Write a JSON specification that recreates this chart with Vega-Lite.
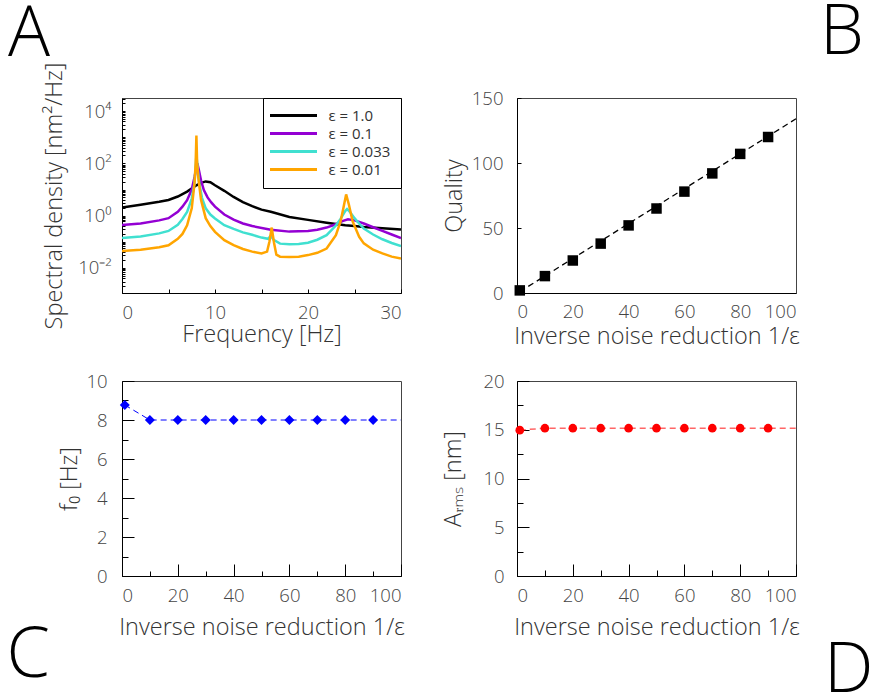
{
  "$schema": "https://vega.github.io/schema/vega-lite/v6.json",
  "background": "white",
  "padding": {"left": 6, "top": -3, "right": 0, "bottom": 0},
  "columns": 2,
  "spacing": {"row": 88, "column": 116},
  "bounds": "flush",
  "resolve": {"scale": {"color": "independent"}, "legend": {"color": "independent"}},
  "datasets": {
    "spectra": [
      {"eps": "ε = 1.0", "f": 0, "S": 2.04}, {"eps": "ε = 1.0", "f": 2, "S": 2.6}, {"eps": "ε = 1.0", "f": 4, "S": 3.4}, {"eps": "ε = 1.0", "f": 5, "S": 3.98}, {"eps": "ε = 1.0", "f": 6, "S": 5.4}, {"eps": "ε = 1.0", "f": 7, "S": 8.3}, {"eps": "ε = 1.0", "f": 8, "S": 14.5}, {"eps": "ε = 1.0", "f": 8.5, "S": 18}, {"eps": "ε = 1.0", "f": 9, "S": 20.4}, {"eps": "ε = 1.0", "f": 9.5, "S": 19}, {"eps": "ε = 1.0", "f": 10, "S": 14.5}, {"eps": "ε = 1.0", "f": 11, "S": 8.9}, {"eps": "ε = 1.0", "f": 12, "S": 5.2}, {"eps": "ε = 1.0", "f": 13, "S": 3.3}, {"eps": "ε = 1.0", "f": 14, "S": 2.3}, {"eps": "ε = 1.0", "f": 15, "S": 1.7}, {"eps": "ε = 1.0", "f": 16, "S": 1.4}, {"eps": "ε = 1.0", "f": 18, "S": 0.89}, {"eps": "ε = 1.0", "f": 20, "S": 0.69}, {"eps": "ε = 1.0", "f": 22, "S": 0.54}, {"eps": "ε = 1.0", "f": 23, "S": 0.48}, {"eps": "ε = 1.0", "f": 24, "S": 0.43}, {"eps": "ε = 1.0", "f": 25, "S": 0.40}, {"eps": "ε = 1.0", "f": 26, "S": 0.37}, {"eps": "ε = 1.0", "f": 28, "S": 0.33}, {"eps": "ε = 1.0", "f": 30, "S": 0.295},
      {"eps": "ε = 0.1", "f": 0, "S": 0.44}, {"eps": "ε = 0.1", "f": 2, "S": 0.5}, {"eps": "ε = 0.1", "f": 4, "S": 0.66}, {"eps": "ε = 0.1", "f": 5, "S": 0.8}, {"eps": "ε = 0.1", "f": 6, "S": 1.4}, {"eps": "ε = 0.1", "f": 6.5, "S": 2.2}, {"eps": "ε = 0.1", "f": 7, "S": 3.9}, {"eps": "ε = 0.1", "f": 7.5, "S": 10}, {"eps": "ε = 0.1", "f": 7.8, "S": 30}, {"eps": "ε = 0.1", "f": 8.0, "S": 70}, {"eps": "ε = 0.1", "f": 8.1, "S": 100}, {"eps": "ε = 0.1", "f": 8.25, "S": 60}, {"eps": "ε = 0.1", "f": 8.5, "S": 22}, {"eps": "ε = 0.1", "f": 8.8, "S": 9.5}, {"eps": "ε = 0.1", "f": 9.2, "S": 5.0}, {"eps": "ε = 0.1", "f": 9.6, "S": 3.2}, {"eps": "ε = 0.1", "f": 10, "S": 2.2}, {"eps": "ε = 0.1", "f": 11, "S": 1.1}, {"eps": "ε = 0.1", "f": 12, "S": 0.7}, {"eps": "ε = 0.1", "f": 13, "S": 0.5}, {"eps": "ε = 0.1", "f": 14, "S": 0.4}, {"eps": "ε = 0.1", "f": 16, "S": 0.29}, {"eps": "ε = 0.1", "f": 18, "S": 0.245}, {"eps": "ε = 0.1", "f": 20, "S": 0.26}, {"eps": "ε = 0.1", "f": 21, "S": 0.29}, {"eps": "ε = 0.1", "f": 22, "S": 0.35}, {"eps": "ε = 0.1", "f": 23, "S": 0.47}, {"eps": "ε = 0.1", "f": 23.7, "S": 0.62}, {"eps": "ε = 0.1", "f": 24.3, "S": 0.72}, {"eps": "ε = 0.1", "f": 25, "S": 0.66}, {"eps": "ε = 0.1", "f": 25.5, "S": 0.58}, {"eps": "ε = 0.1", "f": 26, "S": 0.5}, {"eps": "ε = 0.1", "f": 27, "S": 0.36}, {"eps": "ε = 0.1", "f": 28, "S": 0.26}, {"eps": "ε = 0.1", "f": 29, "S": 0.19}, {"eps": "ε = 0.1", "f": 30, "S": 0.14},
      {"eps": "ε = 0.033", "f": 0, "S": 0.14}, {"eps": "ε = 0.033", "f": 2, "S": 0.16}, {"eps": "ε = 0.033", "f": 4, "S": 0.21}, {"eps": "ε = 0.033", "f": 5, "S": 0.26}, {"eps": "ε = 0.033", "f": 6, "S": 0.45}, {"eps": "ε = 0.033", "f": 6.5, "S": 0.75}, {"eps": "ε = 0.033", "f": 7, "S": 1.4}, {"eps": "ε = 0.033", "f": 7.5, "S": 4.5}, {"eps": "ε = 0.033", "f": 7.8, "S": 18}, {"eps": "ε = 0.033", "f": 7.95, "S": 110}, {"eps": "ε = 0.033", "f": 8.0, "S": 200}, {"eps": "ε = 0.033", "f": 8.1, "S": 90}, {"eps": "ε = 0.033", "f": 8.3, "S": 18}, {"eps": "ε = 0.033", "f": 8.6, "S": 4.8}, {"eps": "ε = 0.033", "f": 9, "S": 1.9}, {"eps": "ε = 0.033", "f": 9.5, "S": 1.1}, {"eps": "ε = 0.033", "f": 10, "S": 0.78}, {"eps": "ε = 0.033", "f": 11, "S": 0.43}, {"eps": "ε = 0.033", "f": 12, "S": 0.31}, {"eps": "ε = 0.033", "f": 13, "S": 0.23}, {"eps": "ε = 0.033", "f": 14, "S": 0.185}, {"eps": "ε = 0.033", "f": 15, "S": 0.145}, {"eps": "ε = 0.033", "f": 15.7, "S": 0.13}, {"eps": "ε = 0.033", "f": 16.0, "S": 0.17}, {"eps": "ε = 0.033", "f": 16.3, "S": 0.12}, {"eps": "ε = 0.033", "f": 17, "S": 0.085}, {"eps": "ε = 0.033", "f": 18, "S": 0.08}, {"eps": "ε = 0.033", "f": 19, "S": 0.082}, {"eps": "ε = 0.033", "f": 20, "S": 0.092}, {"eps": "ε = 0.033", "f": 21, "S": 0.12}, {"eps": "ε = 0.033", "f": 22, "S": 0.18}, {"eps": "ε = 0.033", "f": 23, "S": 0.42}, {"eps": "ε = 0.033", "f": 23.5, "S": 0.75}, {"eps": "ε = 0.033", "f": 24, "S": 1.5}, {"eps": "ε = 0.033", "f": 24.2, "S": 1.8}, {"eps": "ε = 0.033", "f": 24.5, "S": 1.4}, {"eps": "ε = 0.033", "f": 25, "S": 0.8}, {"eps": "ε = 0.033", "f": 25.5, "S": 0.5}, {"eps": "ε = 0.033", "f": 26, "S": 0.32}, {"eps": "ε = 0.033", "f": 27, "S": 0.19}, {"eps": "ε = 0.033", "f": 28, "S": 0.125}, {"eps": "ε = 0.033", "f": 29, "S": 0.09}, {"eps": "ε = 0.033", "f": 30, "S": 0.068},
      {"eps": "ε = 0.01", "f": 0, "S": 0.044}, {"eps": "ε = 0.01", "f": 2, "S": 0.05}, {"eps": "ε = 0.01", "f": 4, "S": 0.062}, {"eps": "ε = 0.01", "f": 5, "S": 0.074}, {"eps": "ε = 0.01", "f": 6, "S": 0.13}, {"eps": "ε = 0.01", "f": 6.5, "S": 0.2}, {"eps": "ε = 0.01", "f": 7, "S": 0.43}, {"eps": "ε = 0.01", "f": 7.5, "S": 1.9}, {"eps": "ε = 0.01", "f": 7.8, "S": 18}, {"eps": "ε = 0.01", "f": 7.92, "S": 100}, {"eps": "ε = 0.01", "f": 8.0, "S": 1150}, {"eps": "ε = 0.01", "f": 8.08, "S": 100}, {"eps": "ε = 0.01", "f": 8.2, "S": 30}, {"eps": "ε = 0.01", "f": 8.5, "S": 4.0}, {"eps": "ε = 0.01", "f": 9, "S": 0.8}, {"eps": "ε = 0.01", "f": 9.5, "S": 0.4}, {"eps": "ε = 0.01", "f": 10, "S": 0.24}, {"eps": "ε = 0.01", "f": 11, "S": 0.115}, {"eps": "ε = 0.01", "f": 12, "S": 0.074}, {"eps": "ε = 0.01", "f": 13, "S": 0.053}, {"eps": "ε = 0.01", "f": 14, "S": 0.042}, {"eps": "ε = 0.01", "f": 15, "S": 0.036}, {"eps": "ε = 0.01", "f": 15.6, "S": 0.042}, {"eps": "ε = 0.01", "f": 15.85, "S": 0.1}, {"eps": "ε = 0.01", "f": 16.1, "S": 0.35}, {"eps": "ε = 0.01", "f": 16.35, "S": 0.09}, {"eps": "ε = 0.01", "f": 16.6, "S": 0.032}, {"eps": "ε = 0.01", "f": 17, "S": 0.027}, {"eps": "ε = 0.01", "f": 18, "S": 0.026}, {"eps": "ε = 0.01", "f": 19, "S": 0.027}, {"eps": "ε = 0.01", "f": 20, "S": 0.031}, {"eps": "ε = 0.01", "f": 21, "S": 0.038}, {"eps": "ε = 0.01", "f": 22, "S": 0.055}, {"eps": "ε = 0.01", "f": 23, "S": 0.18}, {"eps": "ε = 0.01", "f": 23.5, "S": 0.6}, {"eps": "ε = 0.01", "f": 23.8, "S": 1.9}, {"eps": "ε = 0.01", "f": 24.1, "S": 6.5}, {"eps": "ε = 0.01", "f": 24.4, "S": 2.6}, {"eps": "ε = 0.01", "f": 24.8, "S": 0.6}, {"eps": "ε = 0.01", "f": 25.5, "S": 0.155}, {"eps": "ε = 0.01", "f": 26, "S": 0.087}, {"eps": "ε = 0.01", "f": 27, "S": 0.05}, {"eps": "ε = 0.01", "f": 28, "S": 0.036}, {"eps": "ε = 0.01", "f": 29, "S": 0.027}, {"eps": "ε = 0.01", "f": 30, "S": 0.023}
    ],
    "quality": [
      {"x": 1, "q": 2}, {"x": 10, "q": 13}, {"x": 20, "q": 25}, {"x": 30, "q": 38}, {"x": 40, "q": 52}, {"x": 50, "q": 65}, {"x": 60, "q": 78}, {"x": 70, "q": 92}, {"x": 80, "q": 107}, {"x": 90, "q": 120}
    ],
    "qfit": [
      {"x": 1, "q": 1}, {"x": 100, "q": 134}
    ],
    "f0": [
      {"x": 1, "f0": 8.77}, {"x": 10, "f0": 8.0}, {"x": 20, "f0": 8.0}, {"x": 30, "f0": 8.0}, {"x": 40, "f0": 8.0}, {"x": 50, "f0": 8.0}, {"x": 60, "f0": 8.0}, {"x": 70, "f0": 8.0}, {"x": 80, "f0": 8.0}, {"x": 90, "f0": 8.0}
    ],
    "f0line": [
      {"x": 1, "f0": 8.77}, {"x": 10, "f0": 8.0}, {"x": 100, "f0": 8.0}
    ],
    "arms": [
      {"x": 1, "a": 14.96}, {"x": 10, "a": 15.16}, {"x": 20, "a": 15.16}, {"x": 30, "a": 15.16}, {"x": 40, "a": 15.16}, {"x": 50, "a": 15.16}, {"x": 60, "a": 15.16}, {"x": 70, "a": 15.16}, {"x": 80, "a": 15.16}, {"x": 90, "a": 15.16}
    ],
    "armsline": [
      {"x": 1, "a": 14.96}, {"x": 10, "a": 15.16}, {"x": 100, "a": 15.16}
    ]
  },
  "concat": [
    {
      "width": 279,
      "height": 195,
      "title": {"text": "A", "anchor": "start", "frame": "group", "dx": -114, "offset": -64, "baseline": "alphabetic"},
      "data": {"name": "spectra"},
      "mark": {"type": "line", "strokeWidth": 2.5, "clip": true},
      "encoding": {
        "x": {"field": "f", "type": "quantitative", "scale": {"domain": [0, 30], "nice": false},
          "axis": {"values": [0, 5, 10, 15, 20, 25, 30], "labelExpr": "datum.value % 10 == 0 ? datum.label : ''", "tickSize": -4, "labelPadding": 14, "title": "Frequency [Hz]", "titlePadding": 1}},
        "y": {"field": "S", "type": "quantitative", "scale": {"type": "log", "domain": [0.0011, 31623], "nice": false},
          "axis": {"values": [0.002, 0.003, 0.004, 0.005, 0.006, 0.007, 0.008, 0.009, 0.01, 0.02, 0.03, 0.04, 0.05, 0.06, 0.07, 0.08, 0.09, 0.1, 0.2, 0.3, 0.4, 0.5, 0.6, 0.7, 0.8, 0.9, 1, 2, 3, 4, 5, 6, 7, 8, 9, 10, 20, 30, 40, 50, 60, 70, 80, 90, 100, 200, 300, 400, 500, 600, 700, 800, 900, 1000, 2000, 3000, 4000, 5000, 6000, 7000, 8000, 9000, 10000, 20000, 30000],
            "labelExpr": "datum.value == 10000 ? '10⁴' : datum.value == 100 ? '10²' : datum.value == 1 ? '10⁰' : datum.value == 0.01 ? '10⁻²' : ''",
            "tickSize": -3, "labelPadding": 14, "title": "Spectral density [nm²/Hz]", "titlePadding": 11}},
        "color": {"field": "eps", "type": "nominal",
          "scale": {"domain": ["ε = 1.0", "ε = 0.1", "ε = 0.033", "ε = 0.01"], "range": ["#000000", "#9400d3", "#40e0d0", "#ffa500"]},
          "legend": {"orient": "top-right", "offset": 0, "title": null, "symbolType": "M-4.7,0H4.7", "symbolSize": 100, "symbolStrokeWidth": 3, "padding": 10, "symbolOffset": 13, "labelOffset": 27.5, "rowPadding": 2, "labelFontSize": 15, "labelColor": "#333", "strokeColor": "#000", "fillColor": "#fff", "cornerRadius": 0}}
      }
    },
    {
      "width": 279,
      "height": 195,
      "title": {"text": "B", "anchor": "start", "frame": "group", "dx": 303, "offset": -35, "baseline": "alphabetic"},
      "layer": [
        {
          "data": {"name": "qfit"},
          "mark": {"type": "line", "color": "#000", "strokeDash": [6, 4], "strokeWidth": 1.3},
          "encoding": {
            "x": {"field": "x", "type": "quantitative", "scale": {"domain": [0, 100], "nice": false},
              "axis": {"values": [0, 20, 40, 60, 80, 100], "ticks": false, "labelPadding": 9, "title": "Inverse noise reduction 1/ε", "titlePadding": 4}},
            "y": {"field": "q", "type": "quantitative", "scale": {"domain": [0, 150], "nice": false},
              "axis": {"values": [0, 25, 50, 75, 100, 125, 150], "labelExpr": "datum.value % 50 == 0 ? datum.label : ''", "tickSize": -4, "labelPadding": 18, "title": "Quality", "titlePadding": 5}}
          }
        },
        {
          "data": {"name": "quality"},
          "mark": {"type": "square", "filled": true, "color": "#000", "size": 110, "opacity": 1},
          "encoding": {
            "x": {"field": "x", "type": "quantitative"},
            "y": {"field": "q", "type": "quantitative"}
          }
        }
      ]
    },
    {
      "width": 279,
      "height": 195,
      "title": {"text": "C", "orient": "bottom", "anchor": "start", "frame": "group", "dx": -115.5, "offset": 38, "baseline": "alphabetic"},
      "resolve": {"axis": {"x": "independent", "y": "independent"}},
      "layer": [
        {
          "data": {"name": "f0line"},
          "mark": {"type": "line", "color": "#0000ff", "strokeDash": [6, 4], "strokeWidth": 1},
          "encoding": {
            "x": {"field": "x", "type": "quantitative", "scale": {"domain": [0, 100], "nice": false},
              "axis": {"orient": "bottom", "values": [10, 30, 50, 70, 90], "labels": false, "domain": false, "tickSize": -5, "title": null}},
            "y": {"field": "f0", "type": "quantitative", "scale": {"domain": [0, 10], "nice": false},
              "axis": {"orient": "left", "values": [1, 3, 5, 7, 9], "labels": false, "domain": false, "tickSize": -6, "title": null}}
          }
        },
        {
          "data": {"name": "f0"},
          "mark": {"type": "point", "shape": "diamond", "filled": true, "color": "#0000ff", "size": 100, "opacity": 1},
          "encoding": {
            "x": {"field": "x", "type": "quantitative",
              "axis": {"orient": "bottom", "values": [0, 20, 40, 60, 80, 100], "tickSize": -12, "labelPadding": 22, "title": "Inverse noise reduction 1/ε", "titlePadding": 11}},
            "y": {"field": "f0", "type": "quantitative",
              "axis": {"orient": "left", "values": [0, 2, 4, 6, 8, 10], "tickSize": -12, "labelPadding": 27, "title": "f₀  [Hz]", "titlePadding": 4}}
          }
        }
      ]
    },
    {
      "width": 279,
      "height": 195,
      "title": {"text": "D", "orient": "bottom", "anchor": "start", "frame": "group", "dx": 307, "offset": 53, "baseline": "alphabetic"},
      "resolve": {"axis": {"x": "independent", "y": "independent"}},
      "layer": [
        {
          "data": {"name": "armsline"},
          "mark": {"type": "line", "color": "#ff0000", "strokeDash": [6, 4], "strokeWidth": 1.5, "opacity": 0.6},
          "encoding": {
            "x": {"field": "x", "type": "quantitative", "scale": {"domain": [0, 100], "nice": false},
              "axis": {"orient": "bottom", "values": [10, 30, 50, 70, 90], "labels": false, "domain": false, "tickSize": -6, "title": null}},
            "y": {"field": "a", "type": "quantitative", "scale": {"domain": [0, 20], "nice": false},
              "axis": {"orient": "left", "values": [2.5, 7.5, 12.5, 17.5], "labels": false, "domain": false, "tickSize": -6, "title": null}}
          }
        },
        {
          "data": {"name": "arms"},
          "mark": {"type": "circle", "color": "#ff0000", "size": 75, "opacity": 1},
          "encoding": {
            "x": {"field": "x", "type": "quantitative",
              "axis": {"orient": "bottom", "values": [0, 20, 40, 60, 80, 100], "tickSize": -12, "labelPadding": 22, "title": "Inverse noise reduction 1/ε", "titlePadding": 11}},
            "y": {"field": "a", "type": "quantitative",
              "axis": {"orient": "left", "values": [0, 5, 10, 15, 20], "tickSize": -12, "labelPadding": 25, "title": "Aᵣₘₛ [nm]", "titlePadding": 17}}
          }
        }
      ]
    }
  ],
  "config": {
    "font": "Open Sans",
    "view": {"stroke": "#444", "strokeWidth": 1},
    "axis": {
      "grid": false,
      "domainColor": "#000",
      "domainWidth": 1,
      "tickColor": "#000",
      "tickWidth": 1,
      "labelColor": "#444",
      "labelFont": "Open Sans",
      "labelFontSize": 18.5,
      "labelFontWeight": 300,
      "titleColor": "#333",
      "titleFont": "Open Sans",
      "titleFontSize": 23.5,
      "titleFontWeight": 300
    },
    "legend": {"labelFont": "Open Sans"},
    "title": {"font": "Open Sans", "fontSize": 70, "fontWeight": 300, "color": "#000"}
  }
}
